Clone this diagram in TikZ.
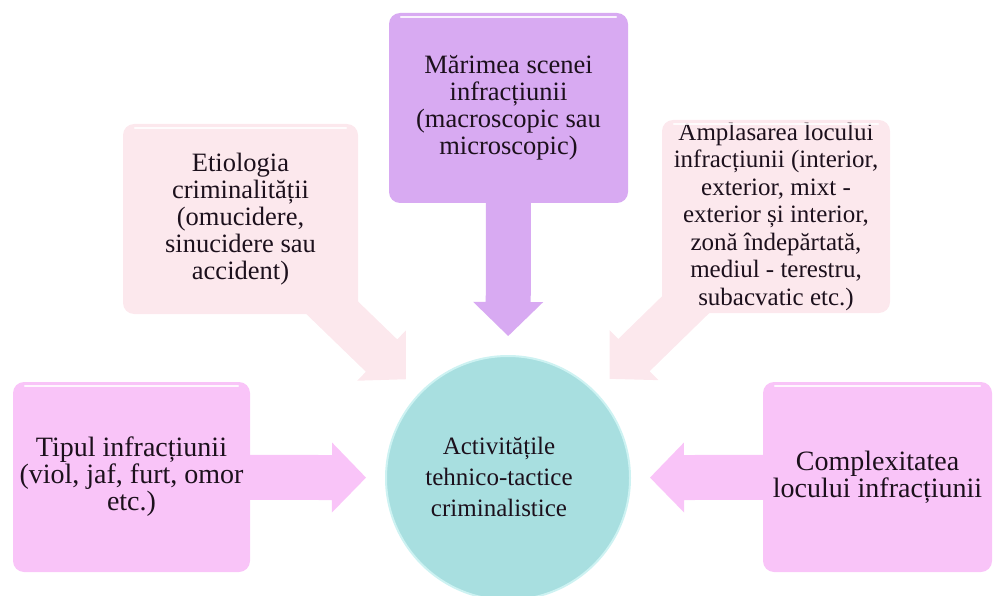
\documentclass[tikz,border=0pt]{standalone}
\usepackage{fontspec}
\setmainfont{Liberation Serif}
\usetikzlibrary{calc}

\definecolor{lilac}{RGB}{216,170,242}
\definecolor{blush}{RGB}{252,232,237}
\definecolor{orchid}{RGB}{249,196,248}
\definecolor{aqua}{RGB}{168,223,224}
\definecolor{aquarim}{RGB}{205,242,242}
\definecolor{ink}{RGB}{28,16,28}

\pgfdeclarelayer{background}
\pgfsetlayers{background,main}

% Block arrow from a source node towards the centre of a target node,
% stopping at a given distance from that centre.
% #1 colour, #2 source node, #3 target node, #4 tip distance
\newcommand\blockarrow[4]{%
  \path ($(#3)!#4!(#2)$) coordinate (bt) ($(bt)!34pt!(#2)$) coordinate (bb);
  \fill[#1] (bt)
    -- ($(bb)!35pt!90:(#2)$) -- ($(bb)!22.5pt!90:(#2)$)
    -- ($(#2)!22.5pt!-90:(bb)$) -- ($(#2)!22.5pt!90:(bb)$)
    -- ($(bb)!22.5pt!-90:(#2)$) -- ($(bb)!35pt!-90:(#2)$) -- cycle;
}

\tikzset{
  panel/.style={rectangle, rounded corners=11pt, inner sep=0pt,
    align=center, text=ink},
  hub/.style={circle, inner sep=0pt, minimum size=244pt, fill=aqua,
    draw=aquarim, line width=2pt},
  caption/.style={align=center, text=ink, inner sep=0pt},
  gleam/.style={white, line width=1.6pt, line cap=round, opacity=0.85},
  tight/.style={font={\fontsize{#1}{27}\selectfont\lineskiplimit=-20pt}},
}

\begin{document}
\begin{tikzpicture}[x=1pt,y=-1pt]
\useasboundingbox (0,0) rectangle (993,596);

% central circle and its caption
\node[hub] (circ) at (508,478) {};
\node[caption, font={\fontsize{25}{31}\selectfont}] (hubtext) at (499,477)
  {Activitățile\\tehnico-tactice\\criminalistice};

% surrounding factors
\node[panel, fill=lilac, minimum width=239pt, minimum height=190pt,
      tight=26.5] (mar) at (508.5,108)
  {Mărimea scenei\\infracțiunii\\(macroscopic sau\\microscopic)};
\node[panel, fill=blush, minimum width=235pt, minimum height=190pt,
      tight=26.5] (eti) at (240.5,219)
  {Etiologia\\criminalității\\(omucidere,\\sinucidere sau\\accident)};
\node[panel, fill=blush, minimum width=228pt, minimum height=193pt,
      font={\fontsize{25}{27.5}\selectfont}] (amp) at (776,216.5)
  {Amplasarea locului\\infracțiunii (interior,\\exterior, mixt -\\exterior și interior,\\zonă îndepărtată,\\mediul - terestru,\\subacvatic etc.)};
\node[panel, fill=orchid, minimum width=237pt, minimum height=190pt,
      tight=28] (tip) at (131.5,477)
  {Tipul infracțiunii\\(viol, jaf, furt, omor\\etc.)};
\node[panel, fill=orchid, minimum width=229pt, minimum height=190pt,
      tight=28] (com) at (877.5,477)
  {Complexitatea\\locului infracțiunii};

% top highlights of the panels
\foreach \b in {mar,eti,amp,tip,com}
  \draw[gleam] ([xshift=12pt,yshift=-4pt]\b.north west)
    -- ([xshift=-12pt,yshift=-4pt]\b.north east);

% arrows pointing to the centre
\begin{pgfonlayer}{background}
  \blockarrow{lilac}{mar}{circ}{142pt}
  \blockarrow{blush}{eti}{circ}{142pt}
  \blockarrow{blush}{amp}{circ}{142pt}
  \blockarrow{orchid}{tip}{circ}{142pt}
  \blockarrow{orchid}{com}{circ}{142pt}
\end{pgfonlayer}
\end{tikzpicture}
\end{document}
